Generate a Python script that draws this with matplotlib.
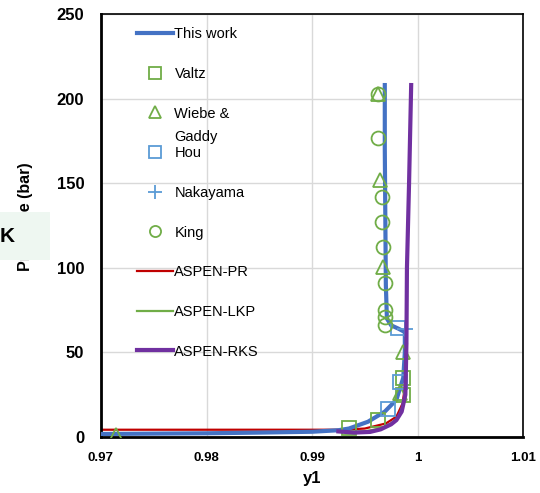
import matplotlib.pyplot as plt
from matplotlib.patches import Rectangle

plt.rcParams["font.family"] = ["Liberation Sans", "DejaVu Sans"]

# --- data ---
work_y1 = [0.970, 0.975, 0.980, 0.985, 0.990, 0.9925, 0.9935, 0.9953, 0.9969, 0.9980, 0.99865,
           0.9988, 0.9988, 0.9982, 0.9975, 0.9971, 0.9970, 0.99695, 0.9969, 0.9969]
work_p = [1.8, 2.0, 2.2, 2.6, 3.1, 4.0, 5.0, 9.0, 15.0, 22.0, 35.0,
          50.0, 62.0, 64.0, 66.0, 70.0, 90.0, 130.0, 170.0, 208.0]

valtz_y1 = [0.99354, 0.99623, 0.99865, 0.99865]
valtz_p = [5.1, 10.0, 24.8, 34.7]

wiebe_y1 = [0.9714, 0.99628, 0.99645, 0.99670, 0.99865, 0.99834]
wiebe_p = [1.0, 203.0, 152.0, 100.6, 50.4, 25.8]

hou_y1 = [0.99818, 0.99834, 0.99723]
hou_p = [64.2, 32.7, 16.4]

naka_y1 = [0.99882]
naka_p = [63.7]

king_y1 = [0.99628, 0.99628, 0.99661, 0.99661, 0.99670, 0.99692, 0.99692, 0.99692, 0.99692]
king_p = [203.0, 177.0, 142.0, 127.0, 112.5, 90.8, 75.1, 71.1, 66.2]

pr_y1 = [0.970, 0.980, 0.990, 0.9930, 0.9950, 0.9970, 0.9980, 0.9986, 0.9988]
pr_p = [4.3, 4.3, 4.3, 4.3, 5.0, 8.0, 12.0, 20.0, 30.0]

lkp_y1 = [0.9930, 0.9950, 0.9965, 0.9975, 0.9982, 0.9987, 0.9989, 0.9990]
lkp_p = [3.2, 3.4, 5.0, 8.0, 12.0, 20.0, 35.0, 55.0]

rks_y1 = [0.9925, 0.9940, 0.9955, 0.9965, 0.9975, 0.9980, 0.9985, 0.99885, 0.9989, 0.99895,
          0.9990, 0.9992, 0.9994]
rks_p = [3.3, 2.6, 3.0, 4.5, 7.5, 10.0, 15.0, 25.0, 40.0, 55.0, 100.0, 150.0, 208.0]

x_ticks = [0.97, 0.98, 0.99, 1.00, 1.01]
x_labels = ["0.97", "0.98", "0.99", "1", "1.01"]
y_ticks = [0, 50, 100, 150, 200, 250]

green = "#70ad47"
blue = "#4472c4"
lblue = "#5b9bd5"
red = "#c00000"
purple = "#7030a0"

fig = plt.figure(figsize=(5.4, 4.93), dpi=100)
ax = fig.add_axes([101 / 540, 56 / 493, 422 / 540, 423 / 493])

ax.plot(work_y1, work_p, color=blue, lw=3, label="This work", zorder=3)
ax.plot(valtz_y1, valtz_p, ls="none", marker="s", ms=10, mfc="none", mec=green, mew=1.3,
        label="Valtz", zorder=4)
ax.plot(wiebe_y1, wiebe_p, ls="none", marker="^", ms=10, mfc="none", mec=green, mew=1.3,
        label="Wiebe &", zorder=4)
ax.plot(hou_y1, hou_p, ls="none", marker="s", ms=10, mfc="none", mec=lblue, mew=1.3,
        label="Hou", zorder=4)
ax.plot(naka_y1, naka_p, ls="none", marker="+", ms=12, mec=lblue, mew=1.3,
        label="Nakayama", zorder=4)
ax.plot(king_y1, king_p, ls="none", marker="o", ms=10, mfc="none", mec=green, mew=1.3,
        label="King", zorder=4)
ax.plot(pr_y1, pr_p, color=red, lw=1.6, label="ASPEN-PR", zorder=2)
ax.plot(lkp_y1, lkp_p, color=green, lw=1.6, label="ASPEN-LKP", zorder=2)
ax.plot(rks_y1, rks_p, color=purple, lw=3, label="ASPEN-RKS", zorder=5)

ax.set_xlim(0.97, 1.01)
ax.set_ylim(0, 250)
ax.set_xticks(x_ticks)
ax.set_xticklabels(x_labels)
ax.set_yticks(y_ticks)
ax.tick_params(axis="both", length=0)
ax.tick_params(axis="x", pad=11, labelsize=9.5)
ax.tick_params(axis="y", pad=12, labelsize=12)
for t in ax.get_xticklabels() + ax.get_yticklabels():
    t.set_fontweight("bold")

ax.grid(True, color="#d9d9d9", lw=1.0)
ax.set_axisbelow(True)
for s in ["left", "bottom"]:
    ax.spines[s].set_linewidth(2.0)
for s in ["top", "right"]:
    ax.spines[s].set_linewidth(1.2)

ax.set_xlabel("y1", fontsize=12, fontweight="bold", labelpad=5)
ax.set_ylabel("Pressure (bar)", fontsize=11.5, fontweight="bold")
ax.yaxis.set_label_coords(-0.161, 0.522)

leg = ax.legend(loc="upper left", bbox_to_anchor=(0.06, 0.993), frameon=False, fontsize=10.5,
                handlelength=2.5, handletextpad=0.1, labelspacing=1.76, borderaxespad=0.3,
                markerscale=0.8)
# second line of the Wiebe & Gaddy label, Excel style (does not push the next rows down)
ax.annotate("Gaddy", xy=(0, 0), xycoords=leg.get_texts()[2], xytext=(0, -7),
            textcoords="offset points", ha="left", va="top", fontsize=10.5, zorder=6)

# box covering part of the y label
fig.patches.append(Rectangle((0, 233 / 493), 50 / 540, 48 / 493, transform=fig.transFigure,
                             facecolor="#eef7f1", edgecolor="none", zorder=10))
fig.text(0.0, 256 / 493, "K", fontsize=15, fontweight="bold", ha="left", va="center", zorder=11)

fig.canvas.draw()
fig.savefig("out.png", dpi=100)
